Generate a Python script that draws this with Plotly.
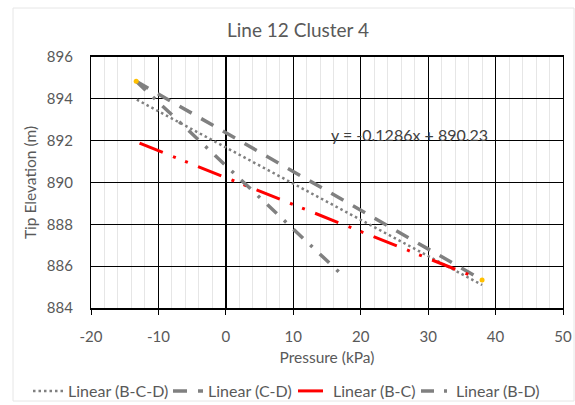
import plotly.graph_objects as go

# Trendline end points (x in kPa, y in m)
bcd_x = [-13.2, 38.0]
bcd_y = [893.96, 885.1]
cd_x = [-13.3, 38.0]
cd_y = [894.84, 885.34]
bc_x = [-12.8, 37.0]
bc_y = [891.88, 885.47]
bd_x = [-13.3, 17.7]
bd_y = [894.84, 885.44]
pts_x = [-13.3, 38.0]
pts_y = [894.84, 885.34]

x_ticks = [-20, -10, 0, 10, 20, 30, 40, 50]
y_ticks = [884, 886, 888, 890, 892, 894, 896]
equation = "y = -0.1286x + 890.23"

FONT = "Lato"
GREY = "#595959"
L, R, T, B = 91, 12, 57, 97
PW, PH = 575 - L - R, 405 - T - B

fig = go.Figure()
fig.add_trace(go.Scatter(x=bcd_x, y=bcd_y, mode="lines", name="Linear (B-C-D)", legendwidth=95,
                         line=dict(color="#808080", width=2.5, dash="2.5px,3px")))
fig.add_trace(go.Scatter(x=cd_x, y=cd_y, mode="lines", name="Linear (C-D)", legendwidth=80,
                         line=dict(color="#808080", width=3.5, dash="14px,11px")))
fig.add_trace(go.Scatter(x=bc_x, y=bc_y, mode="lines", name="Linear (B-C)", legendwidth=78,
                         line=dict(color="#FF0000", width=3, dash="25px,11px,3px,10px,3px,11px")))
fig.add_trace(go.Scatter(x=bd_x, y=bd_y, mode="lines", name="Linear (B-D)", legendwidth=85,
                         line=dict(color="#808080", width=3.5, dash="13px,10px,3px,10px")))
fig.add_trace(go.Scatter(x=pts_x, y=pts_y, mode="markers", showlegend=False,
                         marker=dict(color="#FFC000", size=5)))

fig.add_annotation(x=27.3, y=892.3, text=equation, showarrow=False,
                   font=dict(family=FONT, size=16, color="#404040"))

fig.update_layout(
    width=575, height=405,
    margin=dict(l=L, r=R, t=T, b=B, autoexpand=False),
    paper_bgcolor="white", plot_bgcolor="white",
    font=dict(family=FONT, size=15, color=GREY),
    title=dict(text="Line 12 Cluster 4", x=298 / 575, xanchor="center",
               y=1 - 30 / 405, yanchor="middle",
               font=dict(family=FONT, size=19, color=GREY)),
    showlegend=True,
    legend=dict(orientation="h", x=(28 - L) / PW, xanchor="left",
                y=-(391 - (T + PH)) / PH, yanchor="middle",
                font=dict(family=FONT, size=16, color=GREY), itemwidth=30,
                entrywidthmode="pixels", tracegroupgap=0,
                bgcolor="rgba(0,0,0,0)"),
)
fig.update_xaxes(
    range=[-20, 50], tickvals=x_ticks, ticktext=[str(v) for v in x_ticks],
    showgrid=True, gridcolor="#000000", gridwidth=1,
    minor=dict(dtick=2, showgrid=True, gridcolor="#e6e6e6", gridwidth=1),
    zeroline=True, zerolinecolor="#000000", zerolinewidth=2,
    showline=True, linecolor="#000000", linewidth=1.5, mirror=True,
    ticks="outside", ticklen=5, tickcolor="#000000", ticklabelstandoff=9,
    title=dict(text="Pressure (kPa)", font=dict(family=FONT, size=15.5, color=GREY), standoff=8),
    tickfont=dict(family=FONT, size=15, color=GREY),
)
fig.update_yaxes(
    range=[884, 896], tickvals=y_ticks, ticktext=[str(v) for v in y_ticks],
    showgrid=True, gridcolor="#000000", gridwidth=1,
    zeroline=False,
    showline=True, linecolor="#000000", linewidth=1.2, mirror=True,
    ticks="outside", ticklen=14, tickcolor="rgba(0,0,0,0)",
    title=dict(text="Tip Elevation (m)", font=dict(family=FONT, size=15.5, color=GREY), standoff=6),
    tickfont=dict(family=FONT, size=15, color=GREY),
)
fig.add_shape(type="rect", xref="paper", yref="paper",
              x0=(13 - L) / PW, x1=(574 - L) / PW,
              y0=-(401 - (T + PH)) / PH, y1=1 + (T - 8) / PH,
              line=dict(color="#e6e6e6", width=1), layer="below")

fig.write_html(
    "out.html",
    config={"displayModeBar": False},
    post_script="document.body.style.margin='0px';document.body.style.overflow='hidden';",
)
